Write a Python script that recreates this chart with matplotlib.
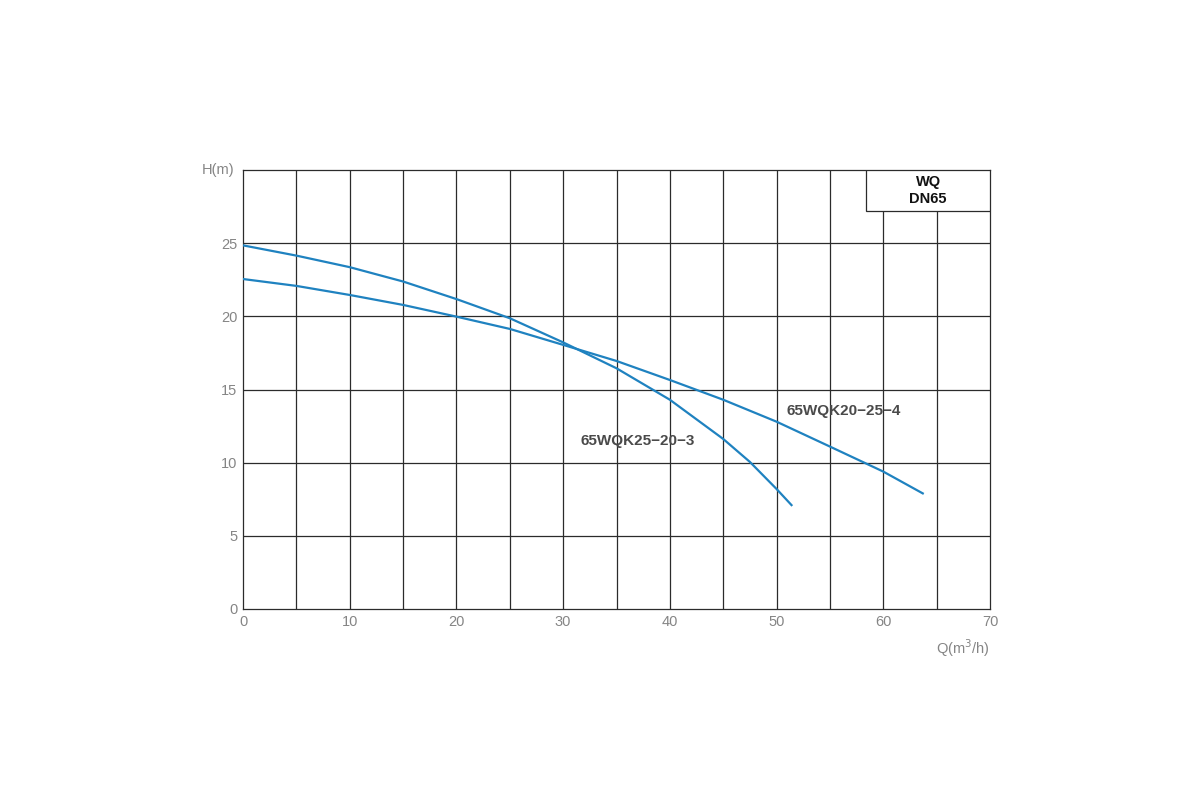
import numpy as np
import matplotlib.pyplot as plt
from matplotlib.patches import Rectangle

plt.rcParams['font.family'] = ['Liberation Sans', 'DejaVu Sans']

# ---- data ----
q_a = [0, 5, 10, 15, 20, 25, 30, 35, 40, 45, 47.5, 50, 51.4]
h_a = [24.85, 24.15, 23.36, 22.38, 21.18, 19.87, 18.22, 16.45, 14.3, 11.62, 10.05, 8.2, 7.1]
name_a = "65WQK25\u221220\u22123"

q_b = [0, 5, 10, 15, 20, 25, 30, 35, 40, 45, 50, 55, 60, 63.7]
h_b = [22.55, 22.08, 21.46, 20.78, 19.98, 19.14, 18.05, 16.95, 15.65, 14.3, 12.8, 11.1, 9.39, 7.9]
name_b = "65WQK20\u221225\u22124"

x_ticks = [0, 10, 20, 30, 40, 50, 60, 70]
y_ticks = [0, 5, 10, 15, 20, 25]

curve_color = '#1f82c0'
grid_color = '#2b2b2b'
tick_color = '#858585'

fig = plt.figure(figsize=(12, 8), dpi=100)
ax = fig.add_axes([0.2025, 0.23875, 0.6225, 0.54875])

ax.set_xlim(0, 70)
ax.set_ylim(0, 30)

# grid every 5 units
for xv in np.arange(5, 70, 5):
    ax.axvline(xv, color=grid_color, lw=0.9, zorder=1)
for yv in np.arange(5, 30, 5):
    ax.axhline(yv, color=grid_color, lw=0.9, zorder=1)
for s in ax.spines.values():
    s.set_color(grid_color)
    s.set_linewidth(0.9)

ax.plot(q_a, h_a, color=curve_color, lw=1.6, zorder=3, solid_joinstyle='round')
ax.plot(q_b, h_b, color=curve_color, lw=1.6, zorder=3, solid_joinstyle='round')

ax.text(37.0, 11.5, name_a, fontsize=11, fontweight='bold', color='#4a4a4a',
        ha='center', va='center', zorder=4)
ax.text(56.3, 13.55, name_b, fontsize=11, fontweight='bold', color='#4a4a4a',
        ha='center', va='center', zorder=4)

# title box in the upper right corner
ax.add_patch(Rectangle((58.4, 27.2), 11.6, 2.8, facecolor='white',
                       edgecolor=grid_color, lw=0.9, zorder=5))
ax.text(64.2, 28.6, "WQ\nDN65", fontsize=10.5, fontweight='bold', color='#111111',
        ha='center', va='center', linespacing=1.3, zorder=6)

ax.set_xticks(x_ticks)
ax.set_yticks(y_ticks)
ax.tick_params(length=0, labelsize=10.5, labelcolor=tick_color, pad=4)

ax.text(-0.8, 30, "H(m)", fontsize=10.5, color=tick_color, ha='right', va='center')
ax.text(70, -1.9, "Q(m$^3$/h)", fontsize=10.5, color=tick_color, ha='right', va='top')

fig.savefig("out.png", dpi=100)
